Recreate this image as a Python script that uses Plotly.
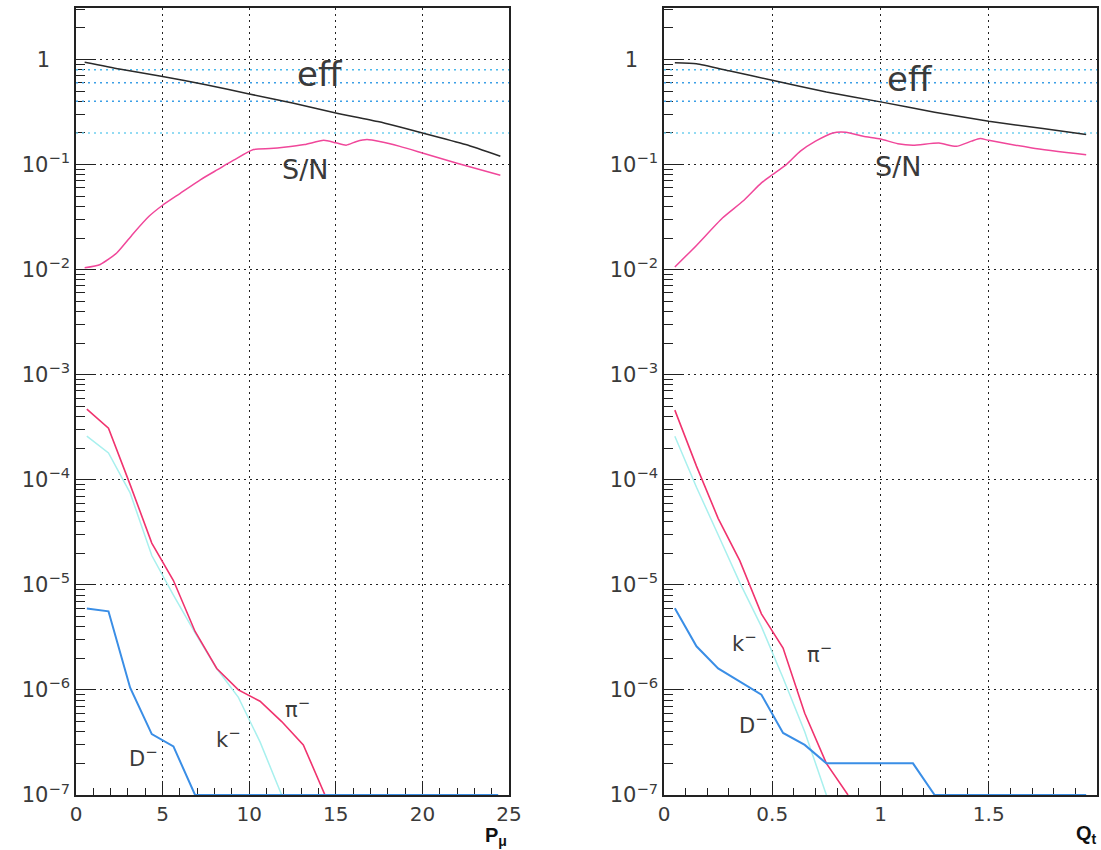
import plotly.graph_objects as go

# ---------------- data: left panel (P_mu) ----------------
p_eff_x = [0.5, 2.5, 5, 7.5, 10, 12.5, 15, 17.5, 20, 22.5, 24.5]
p_eff = [0.94, 0.81, 0.69, 0.575, 0.47, 0.385, 0.31, 0.255, 0.20, 0.155, 0.12]

p_sn_x = [0.5, 1.4, 2.35, 3.3, 4.2, 5.0, 6.0, 7.2, 8.2, 9.1, 10.25, 11.2, 12.0,
          13.2, 14.3, 15.0, 15.6, 16.2, 16.8, 17.6, 18.7, 20, 22, 24.5]
p_sn = [0.0104, 0.0112, 0.0144, 0.022, 0.032, 0.041, 0.053, 0.072, 0.09, 0.11,
        0.139, 0.142, 0.146, 0.155, 0.17, 0.161, 0.153, 0.166, 0.173, 0.165,
        0.149, 0.129, 0.103, 0.079]

p_bins = [0.625, 1.875, 3.125, 4.375, 5.625, 6.875, 8.125, 9.375, 10.625,
          11.875, 13.125, 14.375, 15.625, 16.875, 18.125, 19.375, 20.625,
          21.875, 23.125, 24.375]
p_pi = [4.7e-4, 3.1e-4, 9e-5, 2.5e-5, 1.1e-5, 3.6e-6, 1.6e-6, 1.0e-6, 7.8e-7,
        5e-7, 3e-7, 1e-7]
p_k = [2.6e-4, 1.8e-4, 7.5e-5, 1.9e-5, 8e-6, 3.5e-6, 1.6e-6, 8.5e-7, 3.2e-7,
       1e-7]
p_d = [5.95e-6, 5.6e-6, 1.05e-6, 3.8e-7, 2.9e-7, 1e-7, 1e-7, 1e-7, 1e-7, 1e-7,
       1e-7, 1e-7, 1e-7, 1e-7, 1e-7, 1e-7, 1e-7, 1e-7, 1e-7, 1e-7]

# ---------------- data: right panel (Q_t) ----------------
q_eff_x = [0.05, 0.15, 0.3, 0.5, 0.75, 1.0, 1.25, 1.5, 1.75, 1.95]
q_eff = [0.93, 0.91, 0.78, 0.635, 0.49, 0.395, 0.315, 0.258, 0.22, 0.193]

q_sn_x = [0.05, 0.15, 0.27, 0.365, 0.45, 0.5, 0.565, 0.63, 0.7, 0.78, 0.84,
          0.92, 1.0, 1.08, 1.15, 1.27, 1.35, 1.42, 1.46, 1.5, 1.7, 1.95]
q_sn = [0.0106, 0.017, 0.031, 0.045, 0.067, 0.08, 0.1, 0.134, 0.167, 0.2,
        0.203, 0.186, 0.175, 0.158, 0.153, 0.16, 0.149, 0.167, 0.177, 0.17,
        0.144, 0.124]

q_bins = [0.05, 0.15, 0.25, 0.35, 0.45, 0.55, 0.65, 0.75, 0.85, 0.95, 1.05,
          1.15, 1.25, 1.35, 1.45, 1.55, 1.65, 1.75, 1.85, 1.95]
q_pi = [4.6e-4, 1.35e-4, 4.3e-5, 1.7e-5, 5.3e-6, 2.5e-6, 6e-7, 2e-7, 1e-7]
q_k = [2.6e-4, 8.5e-5, 3e-5, 1.05e-5, 4e-6, 1.3e-6, 4e-7, 1e-7]
q_d = [6e-6, 2.6e-6, 1.6e-6, 1.2e-6, 9e-7, 3.9e-7, 3e-7, 2e-7, 2e-7, 2e-7,
       2e-7, 2e-7, 1e-7, 1e-7, 1e-7, 1e-7, 1e-7, 1e-7, 1e-7, 1e-7]

# reference (blue dotted) levels
ref_levels = [0.8, 0.6, 0.4, 0.2]
ref_colors = ["#4ab8ea", "#3c9fe6", "#3c9fe6", "#6fd0f0"]

y_tick_vals = [1e-7, 1e-6, 1e-5, 1e-4, 1e-3, 1e-2, 1e-1, 1]
y_tick_text = ["10<sup>−7</sup>", "10<sup>−6</sup>", "10<sup>−5</sup>",
               "10<sup>−4</sup>", "10<sup>−3</sup>", "10<sup>−2</sup>",
               "10<sup>−1</sup>", "1\u00a0\u00a0\u00a0"]
y_minor = [m * 10.0 ** e for e in range(-7, 0) for m in range(2, 10)] + [2, 3]

p_xticks = [0, 5, 10, 15, 20, 25]
q_xticks = [0, 0.5, 1, 1.5, 2]
q_xtext = ["0", "0.5", "1", "1.5", "2"]

FONT = "DejaVu Sans"
TXT = "#3a3a3a"
C_EFF = "#2a2a2a"
C_SN = "#f0479a"
C_PI = "#f0336e"
C_K = "#a8f0ee"
C_D = "#3a8ee6"

fig = go.Figure()


def add_panel(xa, ya, xmax, eff_x, eff, sn_x, sn, bins, pi, k, d):
    for lev, col in zip(ref_levels, ref_colors):
        fig.add_trace(go.Scatter(x=[0, xmax / 2, xmax], y=[lev, lev, lev],
                                 mode="lines",
                                 line=dict(color=col, width=1.5, dash="2px,4px"),
                                 xaxis=xa, yaxis=ya, showlegend=False,
                                 hoverinfo="skip"))
    fig.add_trace(go.Scatter(x=eff_x, y=eff, mode="lines",
                             line=dict(color=C_EFF, width=1.5, shape="spline",
                                       smoothing=0.5),
                             xaxis=xa, yaxis=ya, showlegend=False))
    fig.add_trace(go.Scatter(x=sn_x, y=sn, mode="lines",
                             line=dict(color=C_SN, width=1.5, shape="spline",
                                       smoothing=0.6),
                             xaxis=xa, yaxis=ya, showlegend=False))
    fig.add_trace(go.Scatter(x=bins[:len(k)], y=k, mode="lines",
                             line=dict(color=C_K, width=1.5),
                             xaxis=xa, yaxis=ya, showlegend=False))
    fig.add_trace(go.Scatter(x=bins[:len(pi)], y=pi, mode="lines",
                             line=dict(color=C_PI, width=1.6),
                             xaxis=xa, yaxis=ya, showlegend=False))
    fig.add_trace(go.Scatter(x=bins[:len(d)], y=d, mode="lines",
                             line=dict(color=C_D, width=2),
                             xaxis=xa, yaxis=ya, showlegend=False))


add_panel("x", "y", 25, p_eff_x, p_eff, p_sn_x, p_sn, p_bins, p_pi, p_k, p_d)
add_panel("x2", "y2", 2, q_eff_x, q_eff, q_sn_x, q_sn, q_bins, q_pi, q_k, q_d)

ydom = [55 / 850, 842 / 850]
grid_common = dict(showgrid=True, gridcolor="#222", gridwidth=1,
                   griddash="2px,4px", showline=True, linecolor="#222",
                   linewidth=1.5, mirror=True, ticks="inside", tickcolor="#222",
                   zeroline=False, automargin=False, layer="below traces",
                   tickfont=dict(family=FONT, size=20, color=TXT))

yaxis_common = dict(type="log", range=[-7, 0.49], tickmode="array",
                    tickvals=y_tick_vals, ticktext=y_tick_text, ticklen=18,
                    tickwidth=1.2,
                    minor=dict(tickmode="array", tickvals=y_minor, ticks="inside",
                               ticklen=9, tickcolor="#222", showgrid=False),
                    domain=ydom, **grid_common)
yaxis_common["tickfont"] = dict(family=FONT, size=21, color=TXT)

fig.update_layout(
    width=1101, height=850,
    margin=dict(l=0, r=0, t=0, b=0),
    paper_bgcolor="white", plot_bgcolor="white",
    showlegend=False,
    xaxis=dict(domain=[76 / 1101, 509 / 1101], range=[0, 25], tickmode="array",
               tickvals=p_xticks, ticklen=14, tickwidth=1.2,
               minor=dict(dtick=1, ticks="inside", ticklen=7, tickcolor="#222",
                          showgrid=False),
               anchor="y", **grid_common),
    yaxis=dict(anchor="x", **yaxis_common),
    xaxis2=dict(domain=[664 / 1101, 1097 / 1101], range=[0, 2], tickmode="array",
                tickvals=q_xticks, ticktext=q_xtext, ticklen=14, tickwidth=1.2,
                minor=dict(dtick=0.1, ticks="inside", ticklen=7, tickcolor="#222",
                           showgrid=False),
                anchor="y2", **grid_common),
    yaxis2=dict(anchor="x2", **yaxis_common),
)

ann = [
    # left panel
    dict(x=14.1, y=-0.14, xref="x", yref="y", text="eff", size=34),
    dict(x=13.2, y=-1.05, xref="x", yref="y", text="S/N", size=27),
    dict(x=12.8, y=-6.17, xref="x", yref="y", text="π<sup>−</sup>", size=21),
    dict(x=8.75, y=-6.46, xref="x", yref="y", text="k<sup>−</sup>", size=21),
    dict(x=3.85, y=-6.64, xref="x", yref="y", text="D<sup>−</sup>", size=21),
    # right panel
    dict(x=1.135, y=-0.19, xref="x2", yref="y2", text="eff", size=34),
    dict(x=1.08, y=-1.02, xref="x2", yref="y2", text="S/N", size=27),
    dict(x=0.37, y=-5.54, xref="x2", yref="y2", text="k<sup>−</sup>", size=21),
    dict(x=0.72, y=-5.65, xref="x2", yref="y2", text="π<sup>−</sup>", size=21),
    dict(x=0.41, y=-6.32, xref="x2", yref="y2", text="D<sup>−</sup>", size=21),
]
for a in ann:
    fig.add_annotation(x=a["x"], y=a["y"], xref=a["xref"], yref=a["yref"],
                       text=a["text"], showarrow=False,
                       font=dict(family=FONT, size=a["size"], color=TXT))

fig.add_annotation(x=496 / 1101, y=(850 - 836) / 850, xref="paper", yref="paper",
                   xanchor="center", yanchor="middle",
                   text="<b>P<sub>μ</sub></b>", showarrow=False,
                   font=dict(family="Liberation Sans", size=20, color="#111"))
fig.add_annotation(x=1086 / 1101, y=(850 - 834) / 850, xref="paper", yref="paper",
                   xanchor="center", yanchor="middle",
                   text="<b>Q<sub>t</sub></b>", showarrow=False,
                   font=dict(family="Liberation Sans", size=20, color="#111"))

fig.write_html("out.html")
